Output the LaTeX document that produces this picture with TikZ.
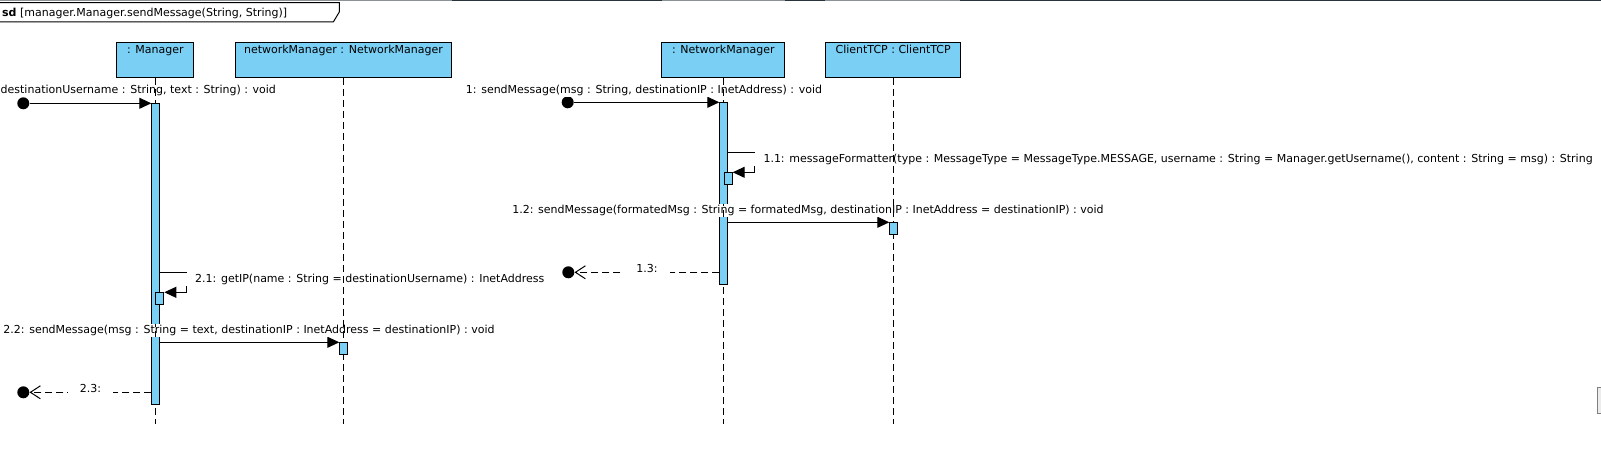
\documentclass[tikz,border=0pt]{standalone}
\usepackage{fontspec}
\setmainfont{DejaVu Sans}
\usetikzlibrary{arrows.meta}
\definecolor{lb}{RGB}{122,207,245}
\definecolor{topdark}{RGB}{40,52,60}
\definecolor{topgray}{RGB}{140,145,150}
\begin{document}
\begin{tikzpicture}[x=1pt,y=-1pt,
  font=\fontsize{11}{13}\selectfont,
  head/.style={draw, fill=lb, line width=1pt, inner sep=0pt, anchor=north west},
  lifeline/.style={line width=1pt, dash pattern=on 7pt off 4pt},
  bar/.style={draw, fill=lb, line width=1pt, inner sep=0pt, minimum width=8pt, anchor=north west},
  call/.style={line width=1pt, -{Triangle[length=12pt,width=11pt]}},
  ret/.style={line width=1pt, dash pattern=on 7pt off 4pt, -{Straight Barb[length=10pt,width=13pt]}},
  dot/.style={circle, fill=black, inner sep=0pt, minimum size=12pt},
  lbl/.style={inner sep=0pt},
  msglbl/.style={fill=white, inner xsep=12pt, inner ysep=1pt},
  retlbl/.style={anchor=base, fill=white, inner xsep=12pt, inner ysep=1pt},
]
\useasboundingbox (0,0) rectangle (1601,454);
% top frame edge
\draw[line width=1.5pt, topgray] (0,0.75) -- (1601,0.75);
\draw[line width=1.5pt, topdark] (452,0.75) -- (662,0.75);
\draw[line width=1.5pt, topdark] (785,0.75) -- (825,0.75);
\draw[line width=1.5pt, topdark] (960,0.75) -- (1601,0.75);
% sd label
\draw[line width=1pt, fill=white] (-1,2.7) -- (339.3,2.7) -- (339.3,12) -- (333.3,22) -- (-1,22);
\node[lbl, anchor=west] (sdl) at (2,13.3) {\textbf{sd} [manager.Manager.sendMessage(String, String)]};

% y levels
\coordinate (endL) at (0,424);
\coordinate (y11) at (0,152.3);
\coordinate (y21) at (0,272.3);

% heads
\node[head, minimum width=77pt, minimum height=34.7pt] (hM) at (116.3,42.3) {};
\node[lbl, anchor=north, yshift=-3pt] (thM) at (hM.north) {: Manager};
\node[head, minimum width=216.6pt, minimum height=34.7pt] (hNm) at (234.7,42.3) {};
\node[lbl, anchor=north, yshift=-3pt] (thNm) at (hNm.north) {networkManager : NetworkManager};
\node[head, minimum width=123pt, minimum height=34.7pt] (hN) at (661.3,42.3) {};
\node[lbl, anchor=north, yshift=-3pt] (thN) at (hN.north) {: NetworkManager};
\node[head, minimum width=135.3pt, minimum height=34.7pt] (hC) at (825,42.3) {};
\node[lbl, anchor=north, yshift=-3pt] (thC) at (hC.north) {ClientTCP : ClientTCP};

% lifelines
\draw[lifeline] (hM.south) -- (hM.south |- endL);
\draw[lifeline] (hNm.south) -- (hNm.south |- endL);
\draw[lifeline] (hN.south) -- (hN.south |- endL);
\draw[lifeline] (hC.south) -- (hC.south |- endL);

% activation bars
\node[bar, minimum height=301.6pt] (bM) at (151.3,102.7) {};
\node[bar, minimum height=12pt] (bM2) at (155.3,292.3) {};
\node[bar, minimum height=12pt] (bNm) at (339.3,342.3) {};
\node[bar, minimum height=182pt] (bN) at (719.3,102.3) {};
\node[bar, minimum height=12pt] (bN2) at (723.7,172.3) {};
\node[bar, minimum height=12pt] (bC) at (889.3,222.3) {};

% found message to Manager
\node[dot] (f1) at (23.3,103.3) {};
\draw[call] (f1) -- (f1 -| bM.west);
\node[msglbl, anchor=west] (t0) at (-11.5,90) {destinationUsername : String, text : String) : void};

% 2.1 self call
\draw[call] (bM.east |- y21) -- ++(26,0) |- (bM2.north east);
\node[msglbl, anchor=west] (t21) at (183,279.3) {2.1: getIP(name : String = destinationUsername) : InetAddress};

% 2.2
\draw[call] (bM.east |- bNm.north) -- (bNm.north west);
\node[msglbl] (t22) at (249,330.3) {2.2: sendMessage(msg : String = text, destinationIP : InetAddress = destinationIP) : void};

% 2.3 return
\node[dot] (r2) at (23.3,392.3) {};
\draw[ret] (bM.west |- r2) -- node[retlbl] (t23) {2.3:} (r2);

% found message to NetworkManager
\node[dot] (f2) at (567.7,102.3) {};
\draw[call] (f2) -- (f2 -| bN.west);
\node[msglbl] (t1) at (644,90.3) {1: sendMessage(msg : String, destinationIP : InetAddress) : void};

% 1.1 self call
\draw[call] (bN.east |- y11) -- ++(26,0) |- (bN2.north east);
\node[msglbl, anchor=west] (t11) at (751.3,159.3) {1.1: messageFormatter(type : MessageType = MessageType.MESSAGE, username : String = Manager.getUsername(), content : String = msg) : String};

% 1.2
\draw[call] (bN.east |- bC.north) -- (bC.north west);
\node[msglbl] (t12) at (808,210.3) {1.2: sendMessage(formatedMsg : String = formatedMsg, destinationIP : InetAddress = destinationIP) : void};

% 1.3 return
\node[dot] (r1) at (568.3,272.3) {};
\draw[ret] (bN.west |- r1) -- node[retlbl] (t13) {1.3:} (r1);

% lifelines show through the label backgrounds
\begin{scope}
  \clip (t0.south west) rectangle (t0.north east)
        (t21.south west) rectangle (t21.north east)
        (t22.south west) rectangle (t22.north east)
        (t1.south west) rectangle (t1.north east)
        (t11.south west) rectangle (t11.north east)
        (t12.south west) rectangle (t12.north east);
  \draw[lifeline] (hM.south) -- (hM.south |- endL);
  \draw[lifeline] (hNm.south) -- (hNm.south |- endL);
  \draw[lifeline] (hN.south) -- (hN.south |- endL);
  \draw[lifeline] (hC.south) -- (hC.south |- endL);
\end{scope}

% small scroll handle at the right edge
\draw[line width=0.8pt, draw=gray, fill=gray!15] (1597.5,387) rectangle (1602,413);
\end{tikzpicture}
\end{document}
